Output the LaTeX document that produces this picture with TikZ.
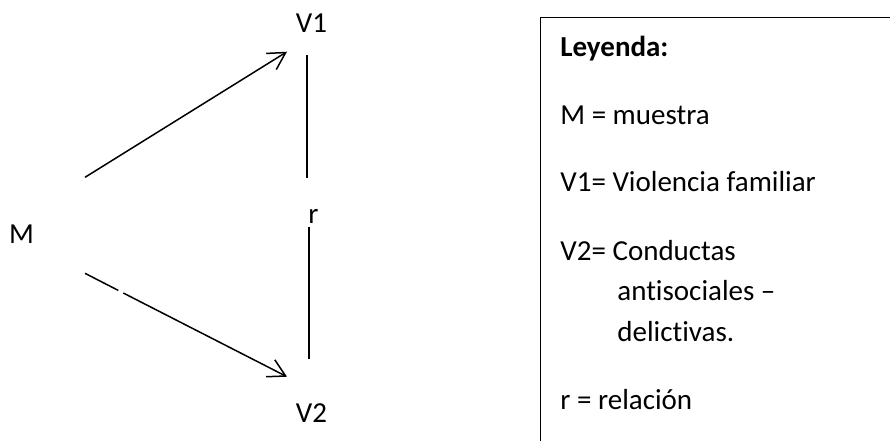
\documentclass[tikz,border=0pt]{standalone}
\usepackage{fontspec}
\setmainfont{Carlito}[Ligatures={TeX,NoCommon}]
\usetikzlibrary{arrows.meta}

\begin{document}
\begin{tikzpicture}[
  x=0.5pt, y=-0.5pt,
  every node/.style={font=\fontsize{14.5pt}{17pt}\selectfont, inner sep=0pt},
  varlabel/.style={anchor=base},
  legtext/.style={anchor=base west},
  trazo/.style={line width=0.75pt, black},
  flecha/.style={trazo, -{Straight Barb[length=8.5pt, width=9.5pt, line width=0.75pt]}},
  caja/.style={line width=0.75pt, black},
]
\useasboundingbox (0,0) rectangle (890,441);

% diagram
\node[varlabel] (M)  at (21.5, 243) {M};
\node[varlabel] (V1) at (311.5, 32) {V1};
\node[varlabel] (V2) at (311.5, 422) {V2};
\node[varlabel] (r)  at (313.5, 223) {r};

\coordinate (m1)   at (85, 177.3);
\coordinate (v1in) at (287, 51.7);
\coordinate (m2)   at (85, 273.3);
\coordinate (gapa) at (118.3, 290.4);
\coordinate (gapb) at (123.3, 293.0);
\coordinate (v2in) at (287, 376.7);
\coordinate (rup1) at (306.8, 55);
\coordinate (rup2) at (306.8, 178.3);
\coordinate (rdn1) at (309, 226.7);
\coordinate (rdn2) at (309, 359.3);

\draw[flecha] (m1) -- (v1in);
\draw[trazo]  (m2) -- (gapa);
\draw[flecha] (gapb) -- (v2in);
\draw[trazo]  (rup1) -- (rup2);
\draw[trazo]  (rdn1) -- (rdn2);

% legend
\coordinate (boxtr) at (890, 17.3);
\coordinate (boxtl) at (540.3, 17.3);
\coordinate (boxbl) at (540.3, 441);
\draw[caja] (boxtr) -- (boxtl) -- (boxbl);

\node[legtext, font=\fontsize{14.5pt}{17pt}\selectfont\bfseries] (ley) at (560, 56.7) {Leyenda:};
\node[legtext] (legM)  at (560, 124.3) {M = muestra};
\node[legtext] (legV1) at (560, 191.7) {V1= Violencia familiar};
\node[legtext] (legV2) at (560, 260) {V2= Conductas};
\node[legtext] (legV2b) at (617, 300) {antisociales –};
\node[legtext] (legV2c) at (617, 341.7) {delictivas.};
\node[legtext] (legr)  at (560, 409.3) {r = relación};
\end{tikzpicture}
\end{document}
